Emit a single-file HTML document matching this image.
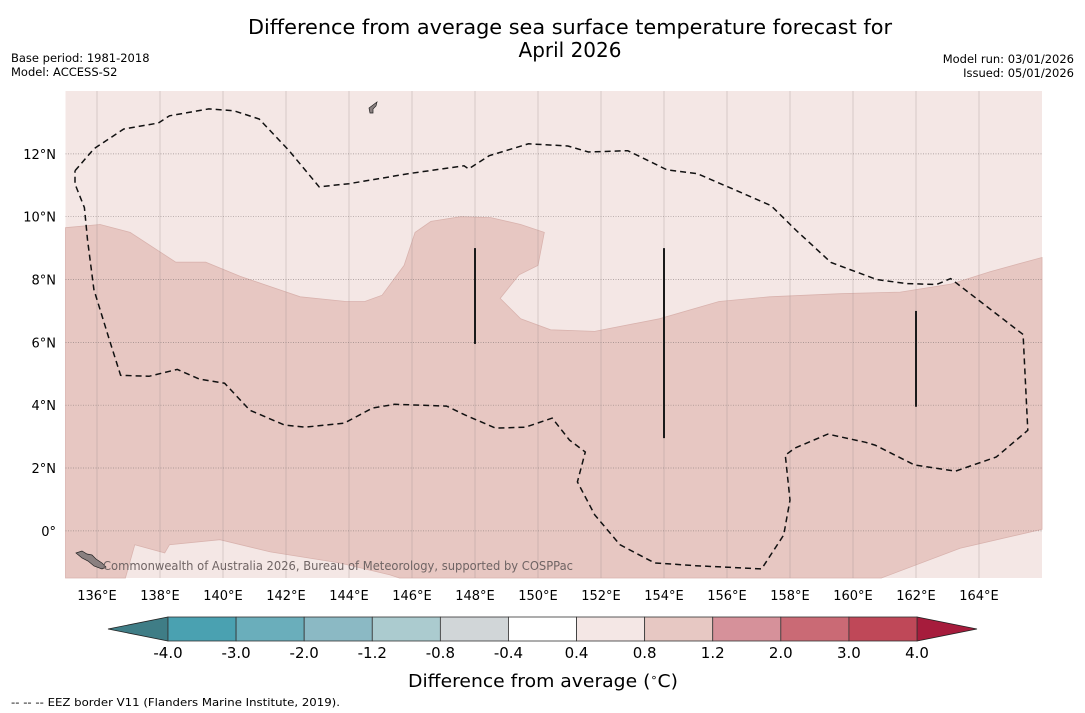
<!DOCTYPE html>
<html><head><meta charset="utf-8">
<style>
html,body{margin:0;padding:0;background:#fff;}
svg{display:block;font-family:"DejaVu Sans","Liberation Sans",sans-serif;}
</style></head>
<body>
<svg id="chart" width="1085" height="713" viewBox="0 0 1085 713" xmlns="http://www.w3.org/2000/svg">
<text x="570" y="34" font-size="20" text-anchor="middle" textLength="644" lengthAdjust="spacingAndGlyphs">Difference from average sea surface temperature forecast for</text>
<text x="570" y="57" font-size="20" text-anchor="middle">April 2026</text>
<text x="11" y="62" font-size="11.5">Base period: 1981-2018</text>
<text x="11" y="76" font-size="11.5">Model: ACCESS-S2</text>
<text x="1074" y="63" font-size="11.5" text-anchor="end">Model run: 03/01/2026</text>
<text x="1074" y="77" font-size="11.5" text-anchor="end">Issued: 05/01/2026</text>
<g id="map"></g>
<g id="cbar"></g>
<text x="543" y="687" font-size="18" text-anchor="middle" textLength="270" lengthAdjust="spacingAndGlyphs">Difference from average (<tspan baseline-shift="super" font-size="11">∘</tspan>C)</text>
<text x="11" y="706" font-size="11" textLength="329" lengthAdjust="spacingAndGlyphs">--  --  -- EEZ border V11 (Flanders Marine Institute, 2019).</text>
</svg>
<script>
// Map extent and data
const lonMin = 135, lonMax = 166, latMin = -1.5, latMax = 14;
const lonTicks = [136,138,140,142,144,146,148,150,152,154,156,158,160,162,164];
const latTicks = [0,2,4,6,8,10,12];
const latTickLabels = ["0°","2°N","4°N","6°N","8°N","10°N","12°N"];
// Anomaly zone 0.8-1.2 (darker) boundary, [lon, lat]
const warmZone = [[135,9.65],[136.1,9.75],[137.05,9.5],[138.5,8.55],[139.45,8.55],[140.55,8.1],[142.45,7.45],[143.9,7.3],[144.5,7.3],[145.05,7.5],[145.75,8.45],[146.1,9.5],[146.6,9.85],[147.55,10],[148.5,9.97],[149.45,9.75],[150.2,9.5],[150,8.45],[149.4,8.15],[148.8,7.4],[149.45,6.75],[150.4,6.4],[151.8,6.35],[153.85,6.75],[155.75,7.3],[157.35,7.45],[159.6,7.55],[161.5,7.6],[163.1,7.85],[164.35,8.25],[166,8.7],[166,0.05],[163.4,-0.55],[160.9,-1.5],[145.6,-1.5],[145.3,-1.4],[143.7,-1.02],[141.5,-0.67],[139.9,-0.28],[138.3,-0.44],[138.15,-0.7],[137.2,-0.44],[136.9,-1.5],[135,-1.5]];
// EEZ dashed border
const eez = [[135.3,11.46],[135.9,12.16],[136.85,12.79],[137.95,12.98],[138.3,13.21],[139.55,13.43],[140.35,13.37],[141.15,13.11],[142.1,12.1],[143.05,10.95],[144,11.05],[145.9,11.37],[147.65,11.62],[147.8,11.52],[148.45,11.94],[149.7,12.32],[150.95,12.25],[151.6,12.06],[152.85,12.1],[154.1,11.49],[155.05,11.37],[156.3,10.83],[157.4,10.35],[158.2,9.56],[159.3,8.54],[160.75,8],[161.7,7.87],[162.65,7.84],[163.1,8.03],[165.4,6.25],[165.55,3.2],[164.55,2.35],[163.25,1.9],[161.95,2.1],[160.7,2.73],[160.4,2.82],[159.2,3.08],[158.15,2.63],[157.85,2.41],[158,0.98],[157.8,-0.13],[157.1,-1.21],[155,-1.11],[153.7,-1.02],[152.6,-0.44],[151.8,0.51],[151.25,1.56],[151.5,2.51],[151,2.89],[150.45,3.59],[149.6,3.3],[148.65,3.27],[147.7,3.68],[147.1,3.97],[145.45,4.03],[144.75,3.91],[143.85,3.43],[142.6,3.3],[141.95,3.37],[140.85,3.84],[140.05,4.7],[139.25,4.83],[138.55,5.14],[137.65,4.92],[136.75,4.95],[136.4,6.06],[135.9,7.68],[135.7,9.27],[135.6,10.29],[135.3,11.04],[135.3,11.46]];
// Vertical black segments: [lon, latTop, latBottom]
const segs = [[148,9.0,5.95],[154,9.0,2.95],[162,7.0,3.95]];
// Colorbar
const cbBounds = [-4.0,-3.0,-2.0,-1.2,-0.8,-0.4,0.4,0.8,1.2,2.0,3.0,4.0];
const cbLabels = ["-4.0","-3.0","-2.0","-1.2","-0.8","-0.4","0.4","0.8","1.2","2.0","3.0","4.0"];
const cbColors = ["#4aa1b1","#6aaebb","#8bb9c4","#abcbcf","#d1d6d8","#ffffff","#f4e7e5","#e7c8c3","#d6919a","#ca6a75","#bf4858"];

const NS="http://www.w3.org/2000/svg";
const X0=65.5,X1=1042,Y0=91,Y1=578;
const xs=lon=>X0+(lon-lonMin)/(lonMax-lonMin)*(X1-X0);
const ys=lat=>Y1-(lat-latMin)/(latMax-latMin)*(Y1-Y0);
function mk(tag,attrs,parent){const e=document.createElementNS(NS,tag);for(const k in attrs)e.setAttribute(k,attrs[k]);parent.appendChild(e);return e;}
const map=document.getElementById('map');
let e;
e=mk('rect',{x:X0,y:Y0,width:X1-X0,height:Y1-Y0,fill:'#f4e7e5'},map);


const pts=a=>a.map(p=>xs(p[0]).toFixed(1)+','+ys(p[1]).toFixed(1)).join(' ');
e=mk('polygon',{points:pts(warmZone),fill:'#e7c7c2',stroke:'#d9b3ae','stroke-width':0.8},map);


lonTicks.forEach((l,i)=>{
  e=mk('line',{x1:xs(l),x2:xs(l),y1:Y0,y2:Y1,stroke:'#9a8c8c','stroke-width':0.6,opacity:0.55},map);
  
  
  e=mk('text',{x:xs(l),y:600,'font-size':13,'text-anchor':'middle'},map);
  e.textContent=l+'°E';
  
  
});
latTicks.forEach((l,i)=>{
  e=mk('line',{x1:X0,x2:X1,y1:ys(l),y2:ys(l),stroke:'#7a6f6f','stroke-width':0.7,'stroke-dasharray':'1,1.5',opacity:0.7},map);
  
  
  e=mk('text',{x:56,y:ys(l)+5,'font-size':13,'text-anchor':'end'},map);
  e.textContent=latTickLabels[i];
  
  
});
e=mk('polyline',{points:pts(eez),fill:'none',stroke:'#111','stroke-width':1.5,'stroke-dasharray':'6,4'},map);


segs.forEach(s=>{
  e=mk('line',{x1:xs(s[0]),x2:xs(s[0]),y1:ys(s[1]),y2:ys(s[2]),stroke:'#1a1a1a','stroke-width':2},map);
  
  
});
// small islands
e=mk('path',{d:'M76,553 l6,-2 5,3 5,1 4,4 6,4 4,4 -4,2 -8,-3 -6,-5 -6,-3z',fill:'#8a8080',stroke:'#222','stroke-width':0.7},map);


e=mk('path',{d:'M369,108 l4,-3 4,-3 -1,4 -3,3 0,4 -3,0z',fill:'#8a8080',stroke:'#222','stroke-width':0.7},map);


e=mk('text',{x:338,y:570,'font-size':12,'text-anchor':'middle',fill:'#6f6464',textLength:470,lengthAdjust:'spacingAndGlyphs'},map);
e.textContent='Commonwealth of Australia 2026, Bureau of Meteorology, supported by COSPPac';



// Colorbar
const cb=document.getElementById('cbar');
const CX0=168,CX1=917,CY0=617,CY1=641;
const cx=i=>CX0+i*(CX1-CX0)/(cbBounds.length-1);
e=mk('polygon',{points:`108,629 ${CX0},${CY0} ${CX0},${CY1}`,fill:'#3f7d86',stroke:'#222','stroke-width':0.8},cb);


e=mk('polygon',{points:`977,629 ${CX1},${CY0} ${CX1},${CY1}`,fill:'#a61c3c',stroke:'#222','stroke-width':0.8},cb);


cbColors.forEach((c,i)=>{
  e=mk('rect',{x:cx(i),y:CY0,width:cx(i+1)-cx(i),height:CY1-CY0,fill:c,stroke:'#333','stroke-width':0.8},cb);
  
  
});
cbLabels.forEach((t,i)=>{
  e=mk('text',{x:cx(i),y:658,'font-size':15,'text-anchor':'middle'},cb);
  e.textContent=t;
  
  
});
</script>
</body></html>
